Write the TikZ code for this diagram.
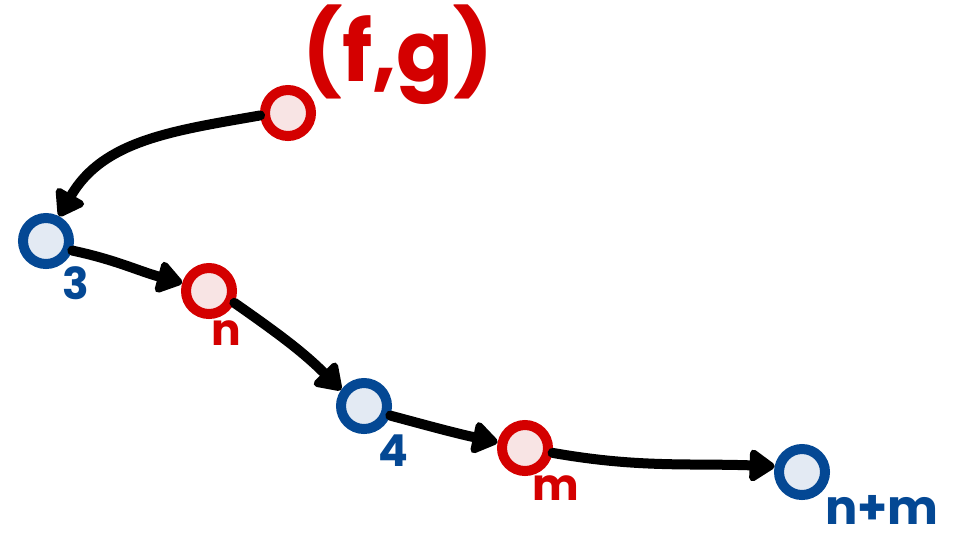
\documentclass[tikz,border=0pt]{standalone}
\usepackage{fontspec}
\setmainfont{Poppins}
\usetikzlibrary{arrows.meta}
\definecolor{hred}{RGB}{212,0,0}
\definecolor{hredfill}{RGB}{248,228,228}
\definecolor{hblue}{RGB}{4,72,148}
\definecolor{hbluefill}{RGB}{227,234,243}
\tikzset{
  dot/.style={circle, line width=10pt, minimum size=46pt, inner sep=0pt},
  rdot/.style={dot, draw=hred, fill=hredfill},
  bdot/.style={dot, draw=hblue, fill=hbluefill},
  tipstyle/.tip={Triangle[round, length=28pt, width=36pt]},
  link/.style={line width=10pt, line cap=round, line join=round, -tipstyle},
  rlab/.style={text=hred, font=\bfseries\fontsize{44}{44}\selectfont},
  blab/.style={text=hblue, font=\bfseries\fontsize{44}{44}\selectfont},
}
\begin{document}
\begin{tikzpicture}[x=1pt, y=-1pt]
  \useasboundingbox (0,0) rectangle (957,542);
  % vertices of the path
  \node[rdot] (fg) at (288,113) {};
  \node[bdot] (v3) at (46,241) {};
  \node[rdot] (vn) at (209,291) {};
  \node[bdot] (v4) at (364,406) {};
  \node[rdot] (vm) at (525,448) {};
  \node[bdot] (vnm) at (802,472) {};
  % labels
  \node[rlab, font=\bfseries\fontsize{84}{84}\selectfont] (lfg) at (398,55) {(f,g)};
  \node[blab] (l3) at (76,283) {3};
  \node[rlab] (ln) at (226,333) {n};
  \node[blab] (l4) at (393,451) {4};
  \node[rlab] (lm) at (556,488) {m};
  \node[blab, font=\bfseries\fontsize{48}{48}\selectfont] (lnm) at (882,510) {n+m};
  % arrows
  \draw[link] (fg.185) to[out=190, in=60] (v3.62);
  \draw[link] (v3.-20) to[out=-12, in=165] (vn.163);
  \draw[link] (vn.-25) to[out=-35, in=135] (v4.145);
  \draw[link] (v4.-20) to[out=-15, in=168] (vm.168);
  \draw[link] (vm.-10) to[out=-10, in=178] (vnm.168);
\end{tikzpicture}
\end{document}
